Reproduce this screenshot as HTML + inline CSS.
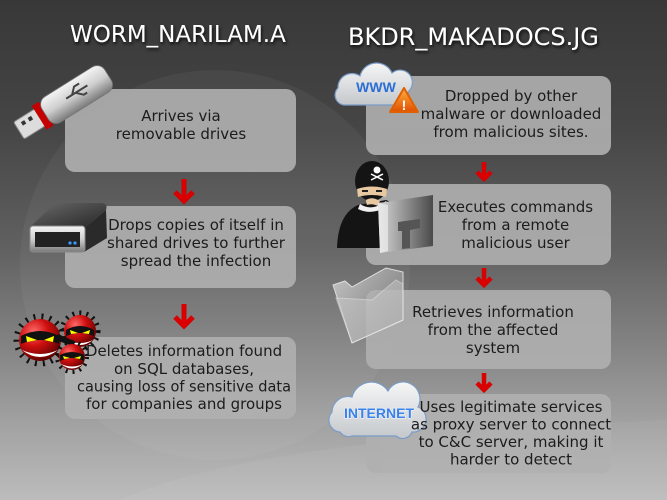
<!DOCTYPE html>
<html><head><meta charset="utf-8"><style>
html,body{margin:0;padding:0;width:667px;height:500px;overflow:hidden;background:#555}
svg{display:block;overflow:hidden}
.t{font-family:"DejaVu Sans","Liberation Sans",sans-serif;font-size:15px;fill:#1c1c1c;text-anchor:middle}
.h{font-family:"DejaVu Sans","Liberation Sans",sans-serif;fill:#fff}
</style></head><body>
<svg width="667" height="500" viewBox="0 0 667 500" xmlns="http://www.w3.org/2000/svg">
<defs>
<linearGradient id="bg" x1="0" y1="0" x2="0" y2="1">
<stop offset="0" stop-color="#383838"/>
<stop offset="0.25" stop-color="#454545"/>
<stop offset="0.5" stop-color="#616161"/>
<stop offset="0.7" stop-color="#858585"/>
<stop offset="0.85" stop-color="#a2a2a2"/>
<stop offset="1" stop-color="#bcbcbc"/>
</linearGradient>
<linearGradient id="silver" x1="0" y1="0" x2="0" y2="1">
<stop offset="0" stop-color="#f4f4f4"/><stop offset="0.5" stop-color="#cfcfcf"/><stop offset="1" stop-color="#7a7a7a"/>
</linearGradient>
<linearGradient id="dark" x1="0" y1="0" x2="1" y2="1">
<stop offset="0" stop-color="#6a6a6a"/><stop offset="1" stop-color="#262626"/>
</linearGradient>
<radialGradient id="redball" cx="0.35" cy="0.3" r="0.75">
<stop offset="0" stop-color="#ff6a6a"/><stop offset="0.45" stop-color="#d01010"/><stop offset="1" stop-color="#5a0000"/>
</radialGradient>
<linearGradient id="cloud" x1="0" y1="0" x2="0" y2="1">
<stop offset="0" stop-color="#f6f6f6"/><stop offset="1" stop-color="#c4c8cc"/>
</linearGradient>
<linearGradient id="warn" x1="0" y1="0" x2="0" y2="1">
<stop offset="0" stop-color="#ffb040"/><stop offset="1" stop-color="#e05000"/>
</linearGradient>
<linearGradient id="mon" x1="0" y1="0" x2="1" y2="0">
<stop offset="0" stop-color="#d8d8d8"/><stop offset="1" stop-color="#4a4a4a"/>
</linearGradient>
<linearGradient id="fold" x1="0" y1="0" x2="1" y2="1">
<stop offset="0" stop-color="#e0e0e0" stop-opacity="0.8"/><stop offset="1" stop-color="#777" stop-opacity="0.5"/>
</linearGradient>
<clipPath id="frame"><rect width="667" height="500"/></clipPath>
<filter id="sh" x="-10%" y="-30%" width="120%" height="160%"><feDropShadow dx="1" dy="2" stdDeviation="1.5" flood-color="#000" flood-opacity="0.85"/></filter>
<g id="arrowL"><path d="M0,0 V22 M-9,13 L0,22 L9,13" fill="none" stroke="#d80000" stroke-width="5"/></g>
<g id="arrowR"><path d="M0,0 V17 M-7,10 L0,17 L7,10" fill="none" stroke="#d80000" stroke-width="4.5"/></g>
</defs>
<g clip-path="url(#frame)">
<rect width="667" height="500" fill="url(#bg)"/>
<circle cx="215" cy="265" r="195" fill="#fff" opacity="0.045"/>
<path d="M120,500 Q250,440 667,420 L667,500 Z" fill="#fff" opacity="0.05"/>
</g>

<!-- boxes -->
<g fill="#b0b0b0" opacity="0.9">
<rect x="65" y="89" width="231" height="83" rx="10"/>
<rect x="65" y="206" width="231" height="82" rx="10"/>
<rect x="65" y="337" width="231" height="82" rx="10"/>
<rect x="366" y="76" width="245" height="79" rx="10"/>
<rect x="366" y="184" width="245" height="81" rx="10"/>
<rect x="366" y="290" width="245" height="79" rx="10"/>
<rect x="366" y="394" width="245" height="79" rx="10"/>
</g>

<!-- arrows -->
<use href="#arrowL" x="184" y="179"/>
<use href="#arrowL" x="184" y="304"/>
<use href="#arrowR" x="484" y="162"/>
<use href="#arrowR" x="484" y="268"/>
<use href="#arrowR" x="484" y="373"/>

<!-- titles -->
<text class="h" x="70" y="42" font-size="23" filter="url(#sh)">WORM_NARILAM.A</text>
<text class="h" x="348" y="45" font-size="24" filter="url(#sh)">BKDR_MAKADOCS.JG</text>

<!-- USB -->
<g transform="translate(63,103) rotate(-32)">
<rect x="-52" y="-10" width="25" height="20" rx="2" fill="#dcdcdc" stroke="#8a8a8a"/>
<rect x="-46" y="-6" width="4" height="4" fill="#333"/>
<rect x="-38" y="-6" width="4" height="4" fill="#333"/>
<rect x="-28" y="-14" width="8" height="28" fill="#c40000"/>
<rect x="-21" y="-15" width="74" height="30" rx="9" fill="url(#silver)" stroke="#777" stroke-width="0.8"/>
<path d="M5,-2 H30 M12,-2 L18,-8 H24 M16,-2 L22,4 H26" stroke="#444" stroke-width="2" fill="none"/>
</g>

<!-- Hard drive -->
<path d="M30,227 L50,208 Q56,203 66,203 L102,203 Q108,204 106,210 L84,228 Z" fill="url(#dark)"/>
<path d="M84,228 L106,210 L107,238 L84,252 Z" fill="#2a2a2a"/>
<rect x="30" y="226" width="55" height="26" rx="3" fill="url(#silver)" stroke="#888"/>
<rect x="35" y="232" width="45" height="15" fill="#222"/>
<circle cx="70" cy="243" r="1.6" fill="#3a9aff"/>
<circle cx="75" cy="243" r="1.6" fill="#3a9aff"/>

<!-- red balls -->
<g>
<circle cx="80" cy="331" r="18" fill="none" stroke="#111" stroke-width="5" stroke-dasharray="2 5"/>
<circle cx="80" cy="331" r="16" fill="url(#redball)"/>
<path d="M66,330 Q80,322 94,330 L94,336 Q80,330 66,336Z" fill="#111"/>
<path d="M70,330 L78,333 L71,334Z M90,330 L82,333 L89,334Z" fill="#ff0"/>
<path d="M67,340 Q80,350 93,340 Q80,346 67,340Z" fill="#fff"/>
<circle cx="40" cy="340" r="23.5" fill="none" stroke="#111" stroke-width="6" stroke-dasharray="2 6"/>
<circle cx="40" cy="340" r="21" fill="url(#redball)"/>
<path d="M21,336 Q40,326 59,336 L59,344 Q40,336 21,344Z" fill="#111"/>
<path d="M26,336 L37,340 L27,342Z M54,336 L44,340 L53,342Z" fill="#ff0"/>
<path d="M22,350 Q40,364 58,350 Q40,358 22,350Z" fill="#fff"/>
<path d="M58,334 L76,342 L72,346 L56,340Z" fill="#111"/>
<circle cx="72" cy="357" r="15" fill="none" stroke="#111" stroke-width="4" stroke-dasharray="2 5"/>
<circle cx="72" cy="357" r="13" fill="url(#redball)"/>
<path d="M60,355 Q72,349 84,355 L84,361 Q72,355 60,361Z" fill="#111"/>
<path d="M63,356 L70,358 L64,359Z M81,356 L74,358 L80,359Z" fill="#ff0"/>
<path d="M61,364 Q72,373 83,364 Q72,369 61,364Z" fill="#fff"/>
</g>

<!-- WWW cloud -->
<path d="M346,105 A10,10 0 0 1 338,88 A14,14 0 0 1 360,76 A17,17 0 0 1 392,73 A12,12 0 0 1 408,92 A9,9 0 0 1 400,105 Z" fill="url(#cloud)" stroke="#7a9cc8" stroke-width="1.2"/>
<text x="376" y="92" text-anchor="middle" font-family="Liberation Sans,sans-serif" font-weight="bold" font-size="14" fill="#2a6fd6">WWW</text>
<path d="M404,88 L418,112 L390,112 Z" fill="url(#warn)" stroke="#e06000" stroke-linejoin="round" stroke-width="2"/>
<text x="404" y="110" text-anchor="middle" font-family="Liberation Sans,sans-serif" font-weight="bold" font-size="14" fill="#fff">!</text>

<!-- hacker -->
<path d="M337,248 Q338,214 358,205 L386,200 Q401,205 402,222 L402,248 Z" fill="#141414"/>
<path d="M360,204 Q372,212 386,201 L388,206 Q372,216 358,209Z" fill="#f0f0f0"/>
<ellipse cx="372" cy="181" rx="17" ry="20" fill="#141414"/>
<path d="M357,189 Q372,184 387,189 L386,197 Q372,193 358,197Z" fill="#e8c8a0"/>
<path d="M362,191 h6 M376,191 h6" stroke="#222" stroke-width="2"/>
<path d="M366,200 Q372,196 380,201 L378,206 Q372,203 367,205Z" fill="#e8c8a0"/>
<circle cx="377" cy="170" r="3.5" fill="#fff"/>
<path d="M371,174 L383,180 M383,174 L371,180" stroke="#fff" stroke-width="1.5"/>
<path d="M378,203 L433,195 L433,246 L380,253 Z" fill="url(#mon)"/>
<path d="M378,203 L388,205 L388,251 L380,253Z" fill="#eee" opacity="0.7"/>
<path d="M398,222 L420,219 L420,228 L410,230 L410,248 L402,249 L402,231 L398,231Z" fill="#555"/>

<!-- folder -->
<path d="M333,285 L345,281 L352,287 L386,268 L403,272 L403,320 L352,343 Z" fill="url(#fold)" stroke="#ddd" stroke-width="1"/>
<path d="M336,298 L372,300 L396,280 L403,284 L403,320 L352,343 Z" fill="#c8c8c8" opacity="0.5" stroke="#eee" stroke-width="1"/>

<!-- internet cloud -->
<path d="M340,432 A12,12 0 0 1 332,412 A16,16 0 0 1 352,397 A20,20 0 0 1 388,391 A15,15 0 0 1 418,407 A13,13 0 0 1 412,432 A10,10 0 0 1 396,436 L352,436 A10,10 0 0 1 340,432 Z" fill="url(#cloud)" stroke="#7a9cc8" stroke-width="1.2"/>
<text x="379" y="418" text-anchor="middle" font-family="Liberation Sans,sans-serif" font-weight="bold" font-size="14" fill="#3b82e8" stroke="#e8eef8" stroke-width="1.5" paint-order="stroke">INTERNET</text>

<!-- box texts -->
<text class="t" x="181" y="121">Arrives via</text>
<text class="t" x="181" y="139">removable drives</text>

<text class="t" x="196" y="230">Drops copies of itself in</text>
<text class="t" x="196" y="248">shared drives to further</text>
<text class="t" x="196" y="266">spread the infection</text>

<text class="t" x="184" y="356">Deletes information found</text>
<text class="t" x="184" y="374">on SQL databases,</text>
<text class="t" x="184" y="391.5" textLength="214" lengthAdjust="spacingAndGlyphs">causing loss of sensitive data</text>
<text class="t" x="184" y="409">for companies and groups</text>

<text class="t" x="511" y="101">Dropped by other</text>
<text class="t" x="511" y="119">malware or downloaded</text>
<text class="t" x="511" y="137">from malicious sites.</text>

<text class="t" x="515.5" y="212">Executes commands</text>
<text class="t" x="515.5" y="230">from a remote</text>
<text class="t" x="515.5" y="248">malicious user</text>

<text class="t" x="493" y="317">Retrieves information</text>
<text class="t" x="493" y="335">from the affected</text>
<text class="t" x="493" y="353">system</text>

<text class="t" x="511" y="412">Uses legitimate services</text>
<text class="t" x="511" y="429.5">as proxy server to connect</text>
<text class="t" x="511" y="447">to C&amp;C server, making it</text>
<text class="t" x="511" y="464.5">harder to detect</text>
</svg>
</body></html>
